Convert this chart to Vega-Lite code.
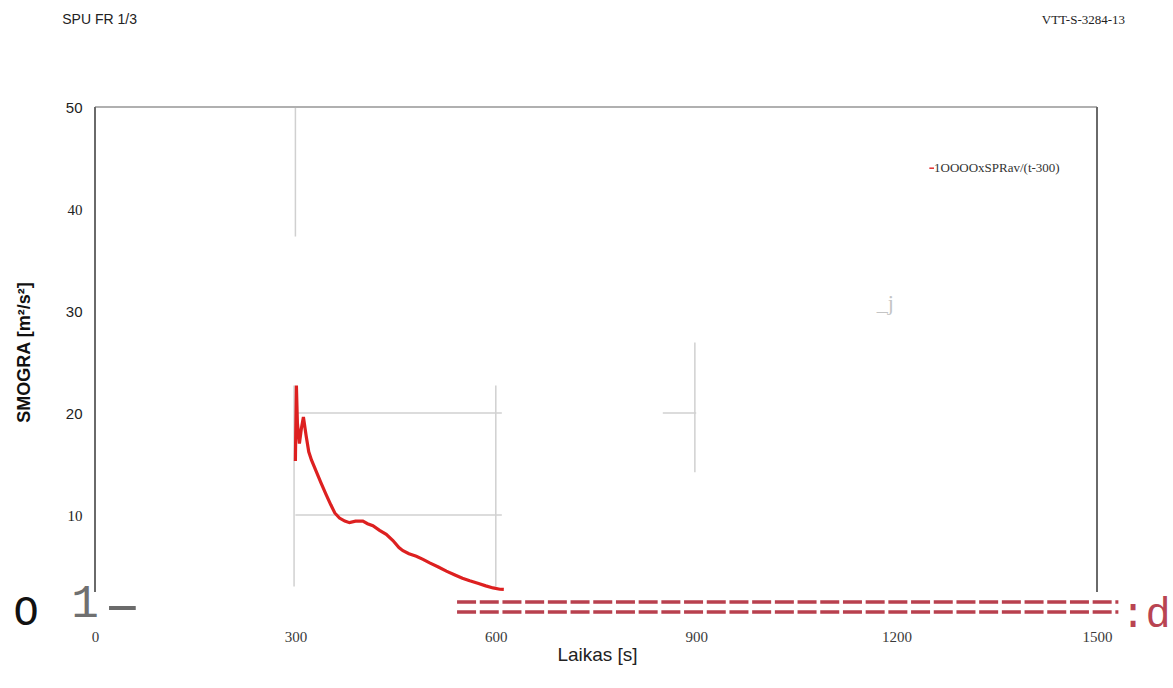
{
  "$schema": "https://vega.github.io/schema/vega-lite/v6.json",
  "width": 1002,
  "height": 510,
  "autosize": "none",
  "padding": {"left": 95, "top": 107, "right": 76, "bottom": 71},
  "background": "white",
  "config": {"view": {"stroke": null}},
  "datasets": {
    "curve": [
      {"x": 300, "y": 15.3}, {"x": 300.5, "y": 18}, {"x": 301.5, "y": 22.7}, {"x": 303, "y": 19},
      {"x": 306, "y": 17}, {"x": 309, "y": 18.5}, {"x": 312, "y": 19.6}, {"x": 316, "y": 17.8},
      {"x": 320, "y": 16.2}, {"x": 324, "y": 15.4}, {"x": 331, "y": 14.3}, {"x": 338, "y": 13.2},
      {"x": 346, "y": 12.0}, {"x": 353, "y": 11.0}, {"x": 359, "y": 10.2}, {"x": 366, "y": 9.7},
      {"x": 374, "y": 9.4}, {"x": 381, "y": 9.25}, {"x": 390, "y": 9.4}, {"x": 401, "y": 9.4},
      {"x": 408, "y": 9.15}, {"x": 416, "y": 8.95}, {"x": 426, "y": 8.5}, {"x": 436, "y": 8.1},
      {"x": 446, "y": 7.5}, {"x": 455, "y": 6.8}, {"x": 461, "y": 6.5}, {"x": 470, "y": 6.2},
      {"x": 481, "y": 5.95}, {"x": 491, "y": 5.65}, {"x": 501, "y": 5.3}, {"x": 514, "y": 4.9},
      {"x": 526, "y": 4.5}, {"x": 538, "y": 4.15}, {"x": 550, "y": 3.8}, {"x": 561, "y": 3.55},
      {"x": 573, "y": 3.3}, {"x": 585, "y": 3.05}, {"x": 596, "y": 2.85}, {"x": 606, "y": 2.72},
      {"x": 612, "y": 2.7}
    ],
    "grid": [
      {"x": 300, "x2": 300, "y": 50, "y2": 37.3},
      {"x": 298, "x2": 298, "y": 22.7, "y2": 3.0},
      {"x": 600, "x2": 600, "y": 22.7, "y2": 3.0},
      {"x": 303, "x2": 609, "y": 20, "y2": 20},
      {"x": 300, "x2": 609, "y": 10, "y2": 10},
      {"x": 898, "x2": 898, "y": 26.9, "y2": 14.2},
      {"x": 850, "x2": 900, "y": 20, "y2": 20}
    ],
    "frameSide": [
      {"x": 0, "x2": 0, "y": 2.45, "y2": 50},
      {"x": 1500, "x2": 1500, "y": 2.45, "y2": 50}
    ],
    "frameTop": [
      {"x": 0, "x2": 1500, "y": 50, "y2": 50}
    ],
    "dashes": [
      {"x": 542, "x2": 1532, "y": 1.47, "y2": 1.47},
      {"x": 542, "x2": 1532, "y": 0.49, "y2": 0.49}
    ],
    "grayBar": [
      {"x": 21, "x2": 61, "y": 0.88, "y2": 0.88}
    ],
    "legendTick": [
      {"x": 1249, "x2": 1256, "y": 44, "y2": 44}
    ],
    "texts": [
      {"id": "hdrL", "x": -49, "y": 58.5, "label": "SPU FR 1/3"},
      {"id": "hdrR", "x": 1542, "y": 58.5, "label": "VTT-S-3284-13"},
      {"id": "legend", "x": 1256, "y": 44, "label": "1OOOOxSPRav/(t-300)"},
      {"id": "junk", "x": 1183, "y": 30.8, "label": "_j"},
      {"id": "O", "x": -103, "y": 0.5, "label": "O"},
      {"id": "one", "x": -15, "y": 1.4, "label": "1"},
      {"id": "cd", "x": 1535, "y": -0.98, "label": ":d"}
    ]
  },
  "layer": [
    {
      "data": {"name": "grid"},
      "mark": {"type": "rule", "color": "#d0d0d0", "strokeWidth": 1.5},
      "encoding": {
        "x": {"field": "x", "type": "quantitative",
          "scale": {"domain": [0, 1500], "nice": false, "zero": false},
          "axis": {"title": "Laikas [s]", "values": [0, 300, 600, 900, 1200, 1500], "format": "d", "grid": false, "domain": false, "ticks": false,
            "labelFont": "Liberation Serif", "labelFontSize": 15, "labelColor": "#3a3a3a", "labelPadding": 12, "labelBaseline": "top",
            "labelFlush": false, "labelOverlap": false,
            "titleFont": "Liberation Sans", "titleFontSize": 19, "titleFontWeight": "normal", "titleColor": "#222222",
            "titleX": 502, "titleY": 37, "titleBaseline": "middle", "titleAlign": "center"}},
        "x2": {"field": "x2"},
        "y": {"field": "y", "type": "quantitative",
          "scale": {"domain": [0, 50], "nice": false, "zero": false},
          "axis": {"title": "SMOGRA [m²/s²]", "values": [10, 20, 30, 40, 50], "grid": false, "domain": false, "ticks": false,
            "labelFont": {"condition": {"test": "datum.value == 40 || datum.value == 10", "value": "Liberation Serif"}, "value": "Liberation Sans"},
            "labelFontSize": 15, "labelColor": "#222222", "labelPadding": 13, "labelFlush": false, "labelOverlap": false,
            "titleFont": "Liberation Sans", "titleFontSize": 18, "titleFontWeight": "bold", "titleColor": "#111111",
            "titleX": -71, "titleY": 245, "titleAngle": -90, "titleBaseline": "middle", "titleAlign": "center"}},
        "y2": {"field": "y2"}
      }
    },
    {
      "data": {"name": "frameTop"},
      "mark": {"type": "rule", "color": "#b0b0b0", "strokeWidth": 2},
      "encoding": {
        "x": {"field": "x", "type": "quantitative"}, "x2": {"field": "x2"},
        "y": {"field": "y", "type": "quantitative"}, "y2": {"field": "y2"}
      }
    },
    {
      "data": {"name": "frameSide"},
      "mark": {"type": "rule", "color": "#6a6a6a", "strokeWidth": 2},
      "encoding": {
        "x": {"field": "x", "type": "quantitative"}, "x2": {"field": "x2"},
        "y": {"field": "y", "type": "quantitative"}, "y2": {"field": "y2"}
      }
    },
    {
      "data": {"name": "dashes"},
      "mark": {"type": "rule", "color": "#b8404e", "strokeWidth": 3.5, "strokeDash": [19, 3.7], "strokeCap": "butt"},
      "encoding": {
        "x": {"field": "x", "type": "quantitative"}, "x2": {"field": "x2"},
        "y": {"field": "y", "type": "quantitative"}, "y2": {"field": "y2"}
      }
    },
    {
      "data": {"name": "grayBar"},
      "mark": {"type": "rule", "color": "#6b6b6b", "strokeWidth": 4},
      "encoding": {
        "x": {"field": "x", "type": "quantitative"}, "x2": {"field": "x2"},
        "y": {"field": "y", "type": "quantitative"}, "y2": {"field": "y2"}
      }
    },
    {
      "data": {"name": "legendTick"},
      "mark": {"type": "rule", "color": "#e03030", "strokeWidth": 1.5},
      "encoding": {
        "x": {"field": "x", "type": "quantitative"}, "x2": {"field": "x2"},
        "y": {"field": "y", "type": "quantitative"}, "y2": {"field": "y2"}
      }
    },
    {
      "data": {"name": "curve"},
      "mark": {"type": "line", "color": "#dd2020", "strokeWidth": 3.2, "interpolate": "linear"},
      "encoding": {
        "x": {"field": "x", "type": "quantitative"},
        "y": {"field": "y", "type": "quantitative"}
      }
    },
    {
      "data": {"name": "texts"},
      "transform": [{"filter": "datum.id == 'hdrL'"}],
      "mark": {"type": "text", "font": "Liberation Sans", "fontSize": 14, "color": "#222222", "align": "left", "baseline": "middle"},
      "encoding": {"x": {"field": "x", "type": "quantitative"}, "y": {"field": "y", "type": "quantitative"}, "text": {"field": "label"}}
    },
    {
      "data": {"name": "texts"},
      "transform": [{"filter": "datum.id == 'hdrR'"}],
      "mark": {"type": "text", "font": "Liberation Serif", "fontSize": 13, "color": "#222222", "align": "right", "baseline": "middle"},
      "encoding": {"x": {"field": "x", "type": "quantitative"}, "y": {"field": "y", "type": "quantitative"}, "text": {"field": "label"}}
    },
    {
      "data": {"name": "texts"},
      "transform": [{"filter": "datum.id == 'legend'"}],
      "mark": {"type": "text", "font": "Liberation Serif", "fontSize": 13, "color": "#333333", "align": "left", "baseline": "middle"},
      "encoding": {"x": {"field": "x", "type": "quantitative"}, "y": {"field": "y", "type": "quantitative"}, "text": {"field": "label"}}
    },
    {
      "data": {"name": "texts"},
      "transform": [{"filter": "datum.id == 'junk'"}],
      "mark": {"type": "text", "font": "Liberation Serif", "fontSize": 22, "color": "#c4c4c4", "align": "center", "baseline": "middle"},
      "encoding": {"x": {"field": "x", "type": "quantitative"}, "y": {"field": "y", "type": "quantitative"}, "text": {"field": "label"}}
    },
    {
      "data": {"name": "texts"},
      "transform": [{"filter": "datum.id == 'O'"}],
      "mark": {"type": "text", "font": "Liberation Mono", "fontSize": 42, "color": "#111111", "align": "center", "baseline": "middle"},
      "encoding": {"x": {"field": "x", "type": "quantitative"}, "y": {"field": "y", "type": "quantitative"}, "text": {"field": "label"}}
    },
    {
      "data": {"name": "texts"},
      "transform": [{"filter": "datum.id == 'one'"}],
      "mark": {"type": "text", "font": "Liberation Mono", "fontSize": 46, "color": "#707070", "align": "center", "baseline": "middle"},
      "encoding": {"x": {"field": "x", "type": "quantitative"}, "y": {"field": "y", "type": "quantitative"}, "text": {"field": "label"}}
    },
    {
      "data": {"name": "texts"},
      "transform": [{"filter": "datum.id == 'cd'"}],
      "mark": {"type": "text", "font": "Liberation Mono", "fontSize": 42, "color": "#b94452", "align": "left", "baseline": "alphabetic"},
      "encoding": {"x": {"field": "x", "type": "quantitative"}, "y": {"field": "y", "type": "quantitative"}, "text": {"field": "label"}}
    }
  ]
}
